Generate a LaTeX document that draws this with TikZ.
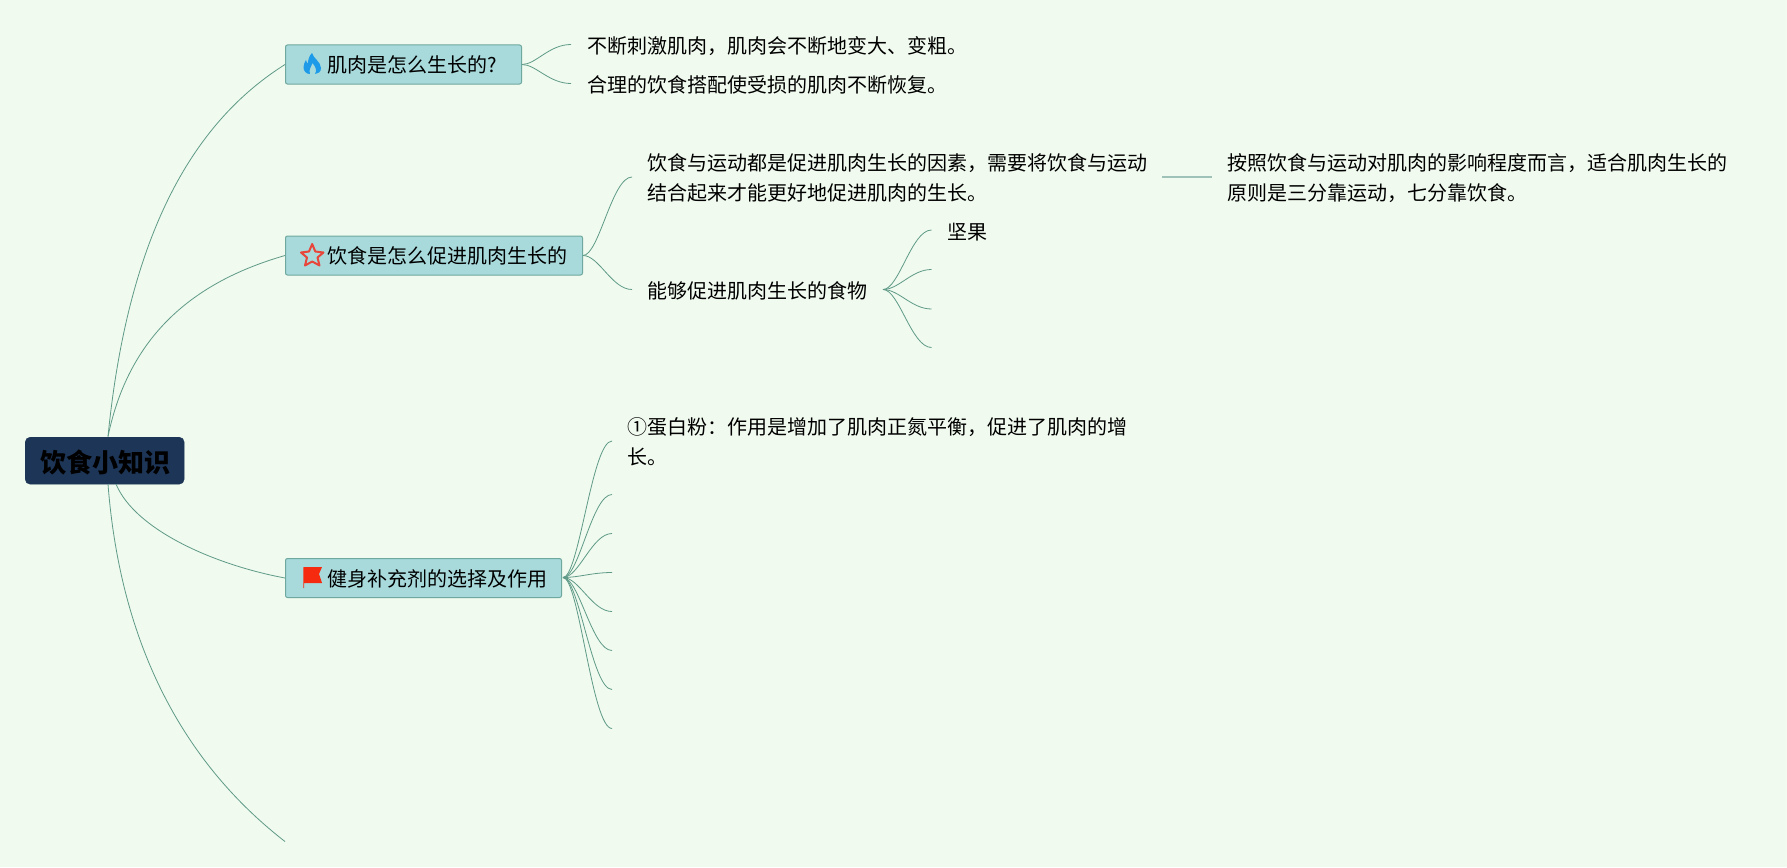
\documentclass[tikz,border=0pt]{standalone}
\usepackage{fontspec}
\setmainfont{Noto Sans CJK SC}
\definecolor{bgc}{HTML}{F0FAEE}
\definecolor{boxc}{HTML}{A8DADC}
\definecolor{boxb}{HTML}{6FA89E}
\definecolor{rootc}{HTML}{1D3557}
\definecolor{linec}{HTML}{5F9A88}
\definecolor{flamec}{HTML}{1E9BE8}
\definecolor{redc}{HTML}{E8463A}
\definecolor{flagc}{HTML}{F52A0F}
\tikzset{
  rootbox/.style={fill=rootc,draw=rootc,rounded corners=5pt,inner sep=0pt,anchor=north west,minimum height=47pt,minimum width=159pt,font=\fontsize{26}{30}\selectfont\bfseries,text=black},
  topicbox/.style={fill=boxc,draw=boxb,line width=1pt,rounded corners=2pt,inner sep=0pt,anchor=north west,minimum height=39pt,font=\fontsize{20}{24}\selectfont},
  leaf/.style={anchor=west,inner sep=0pt,align=left,font=\fontsize{20}{30}\selectfont},
  conn/.style={draw=linec,line width=0.8pt},
  branch/.style={out=0,in=180,out distance=16pt,in distance=20pt},
}
\begin{document}
\begin{tikzpicture}[x=1pt,y=-1pt]
\useasboundingbox (0,0) rectangle (1787,867);
\fill[bgc] (0,0) rectangle (1787,867);
\coordinate (rt) at (108,436.5);
\coordinate (rba) at (116,484);
\coordinate (rbb) at (108,484);
\coordinate (fourth) at (285,841.5);
\node[rootbox] (root) at (25,437) {\hspace{1pt}\raisebox{-2pt}[\height][\depth]{饮食小知识}};
\node[topicbox] (t1) at (285,44.5) {\makebox[236pt][l]{\hspace{42pt}肌肉是怎么生长的?}};
\node[topicbox] (t2) at (285,235.5) {\makebox[297pt][l]{\hspace{42pt}饮食是怎么促进肌肉生长的}};
\node[topicbox] (t3) at (285,558) {\makebox[276pt][l]{\hspace{42pt}\raisebox{-1pt}[\height][\depth]{健身补充剂的选择及作用}}};
% icons
\fill[flamec] (312,53) .. controls (313,58) and (321,62) .. (321,68) .. controls (321,72) and (318,74) .. (315,74) .. controls (317,71) and (316,67) .. (312.5,63) .. controls (311,67) and (308.5,70) .. (310,74) .. controls (306,74) and (303.5,71) .. (303.5,67) .. controls (303.5,64) and (305,62) .. (306,60) .. controls (306.5,62) and (307,63) .. (308,63.5) .. controls (308,60) and (309,56) .. (312,53) -- cycle;
\draw[redc,line width=2pt,line join=round] (312.2,244) -- (315.3,251.5) -- (323.5,252.5) -- (317.5,257.5) -- (319.5,265.5) -- (312.2,261.5) -- (305,265.5) -- (307,257.5) -- (301,252.5) -- (309,251.5) -- cycle;
\fill[flagc] (303.5,567) -- (322,567) -- (319,574) -- (322,583) -- (304.2,583) -- (304.2,588) -- (303.3,588) -- cycle;
% leaves
\node[leaf] (a1) at (587.5,46) {不断刺激肌肉，肌肉会不断地变大、变粗。};
\node[leaf] (a2) at (587.5,85) {合理的饮食搭配使受损的肌肉不断恢复。};
\node[leaf] (b1) at (647,178) {饮食与运动都是促进肌肉生长的因素，需要将饮食与运动\\结合起来才能更好地促进肌肉的生长。};
\node[leaf] (b2) at (647,291) {能够促进肌肉生长的食物};
\node[leaf] (b11) at (1227,178) {按照饮食与运动对肌肉的影响程度而言，适合肌肉生长的\\原则是三分靠运动，七分靠饮食。};
\node[leaf] (c1) at (947.5,232) {坚果};
\node[leaf] (d1) at (627,442) {①蛋白粉：作用是增加了肌肉正氮平衡，促进了肌肉的增\\长。};
% free ends
\coordinate (a1e) at (571,44.5);
\coordinate (a2e) at (571,83.5);
\coordinate (b1e) at (632,177);
\coordinate (b2e) at (632,289.5);
\coordinate (b2s) at (883,289.5);
\coordinate (b1s) at (1162,177);
\coordinate (b11e) at (1212,177);
\coordinate (c1e) at (931.5,230);
\coordinate (c2e) at (931.5,269.5);
\coordinate (c3e) at (931.5,309);
\coordinate (c4e) at (931.5,347.5);
\coordinate (d0) at (563,577.5);
\coordinate (d1e) at (612,441);
\coordinate (d2e) at (612,494.5);
\coordinate (d3e) at (612,533.5);
\coordinate (d4e) at (612,572.5);
\coordinate (d5e) at (612,611.5);
\coordinate (d6e) at (612,650.5);
\coordinate (d7e) at (612,689.5);
\coordinate (d8e) at (612,728.5);
% main connectors
\draw[conn] (rt) .. controls (130,215) and (205,115) .. (t1.west);
\draw[conn] (rt) .. controls (130,330) and (200,280) .. (t2.west);
\draw[conn] (rba) .. controls (135,530) and (215,565) .. (t3.west);
\draw[conn] (rbb) .. controls (120,640) and (180,760) .. (fourth);
% branches
\foreach \e in {a1e,a2e} \draw[conn] (t1.east) to[branch,out distance=14pt,in distance=22pt] (\e);
\foreach \e in {b1e,b2e} \draw[conn] (t2.east) to[branch] (\e);
\foreach \e in {c1e,c2e,c3e,c4e} \draw[conn] (b2s) to[branch] (\e);
\foreach \e in {d1e,d2e,d3e,d4e,d5e,d6e,d7e,d8e} \draw[conn] (d0) to[branch] (\e);
\draw[conn,draw=linec!60,line width=1.2pt] (b1s) -- (b11e);
\end{tikzpicture}
\end{document}
